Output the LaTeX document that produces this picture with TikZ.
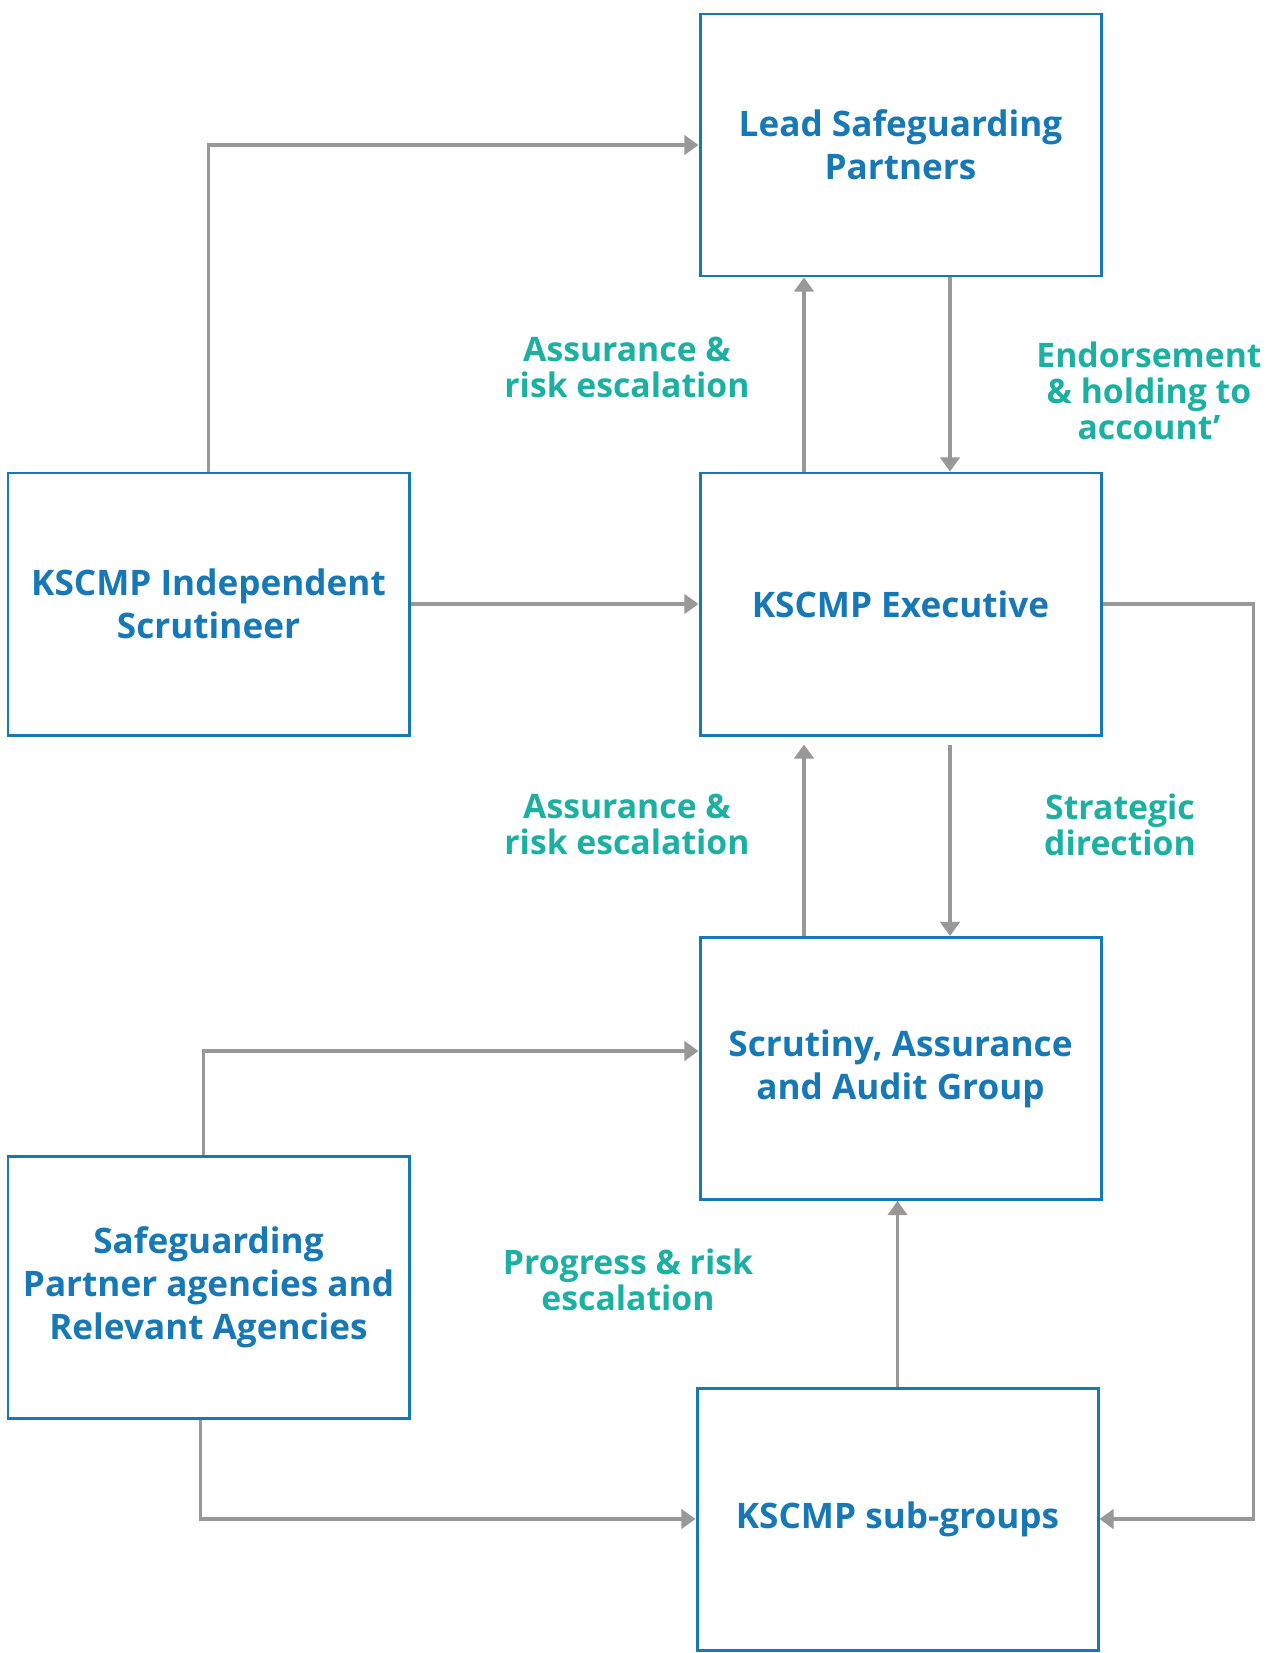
\documentclass[tikz,border=0pt]{standalone}
\usepackage{fontspec}
\setmainfont{Open Sans}
\usepackage{tikz}
\usetikzlibrary{calc,arrows.meta}

\definecolor{boxblue}{RGB}{22,120,182}
\definecolor{labelteal}{RGB}{27,176,162}
\definecolor{linegray}{RGB}{152,152,152}

\begin{document}
\begin{tikzpicture}[
        box/.style={draw=boxblue, line width=1.7pt, text=boxblue, minimum width=8.02cm, minimum height=5.24cm, align=center, font=\bfseries\fontsize{20}{24.5}\selectfont},
        lbl/.style={text=labelteal, align=center, font=\bfseries\fontsize{19.2}{20.5}\selectfont},
        arr/.style={draw=linegray, line width=1.8pt, -{Triangle[width=11pt,length=8pt]}}
    ]
        \useasboundingbox (0,0) rectangle (25.58,-33.06);

        % Draw the boxes
        \node[box] (lead) at (18.01,-2.90) {Lead Safeguarding\\Partners};
        \node[box] (exec) at (18.01,-12.08) {KSCMP Executive};
        \node[box] (indep) at (4.17,-12.08) {KSCMP Independent\\Scrutineer};
        \node[box] (saag) at (18.01,-21.37) {Scrutiny, Assurance\\and Audit Group};
        \node[box] (spa) at (4.17,-25.75) {Safeguarding\\Partner agencies and\\Relevant Agencies};
        \node[box] (sub) at (17.95,-30.38) {KSCMP sub-groups};

        % Draw the labels
        \node[lbl] (assure1) at (12.54,-7.34) {Assurance \&\\risk escalation};
        \node[lbl] (endorse) at (22.98,-7.82) {Endorsement\\\& holding to\\account’};
        \node[lbl] (assure2) at (12.54,-16.49) {Assurance \&\\risk escalation};
        \node[lbl] (strat) at (22.40,-16.49) {Strategic\\direction};
        \node[lbl] (progress) at (12.56,-25.59) {Progress \& risk\\escalation};

        % Draw the connectors
        \draw[arr] (indep.north) |- (lead.west); % Scrutineer to partners
        \draw[arr] (indep.east) -- (exec.west); % Scrutineer to executive
        \draw[arr] ([xshift=-1.93cm]exec.north) -- ([xshift=-1.93cm]lead.south); % Up to partners
        \draw[arr] ([xshift=0.99cm]lead.south) -- ([xshift=0.99cm]exec.north); % Down to executive
        \draw[arr, shorten >=0.16cm] ([xshift=-1.93cm]saag.north) -- ([xshift=-1.93cm]exec.south); % Up to executive
        \draw[arr, shorten <=0.16cm] ([xshift=0.99cm]exec.south) -- ([xshift=0.99cm]saag.north); % Down to group
        \draw[arr] (exec.east) -- ++(3.02,0) |- (sub.east); % Executive to sub-groups
        \draw[arr] (sub.north) -- (sub.north |- saag.south); % Sub-groups to group
        \draw[arr] ([xshift=-0.1cm]spa.north) |- ([yshift=0.35cm]saag.west); % Agencies to group
        \draw[arr] ([xshift=-0.16cm]spa.south) |- (sub.west); % Agencies to sub-groups
    \end{tikzpicture}
\end{document}
